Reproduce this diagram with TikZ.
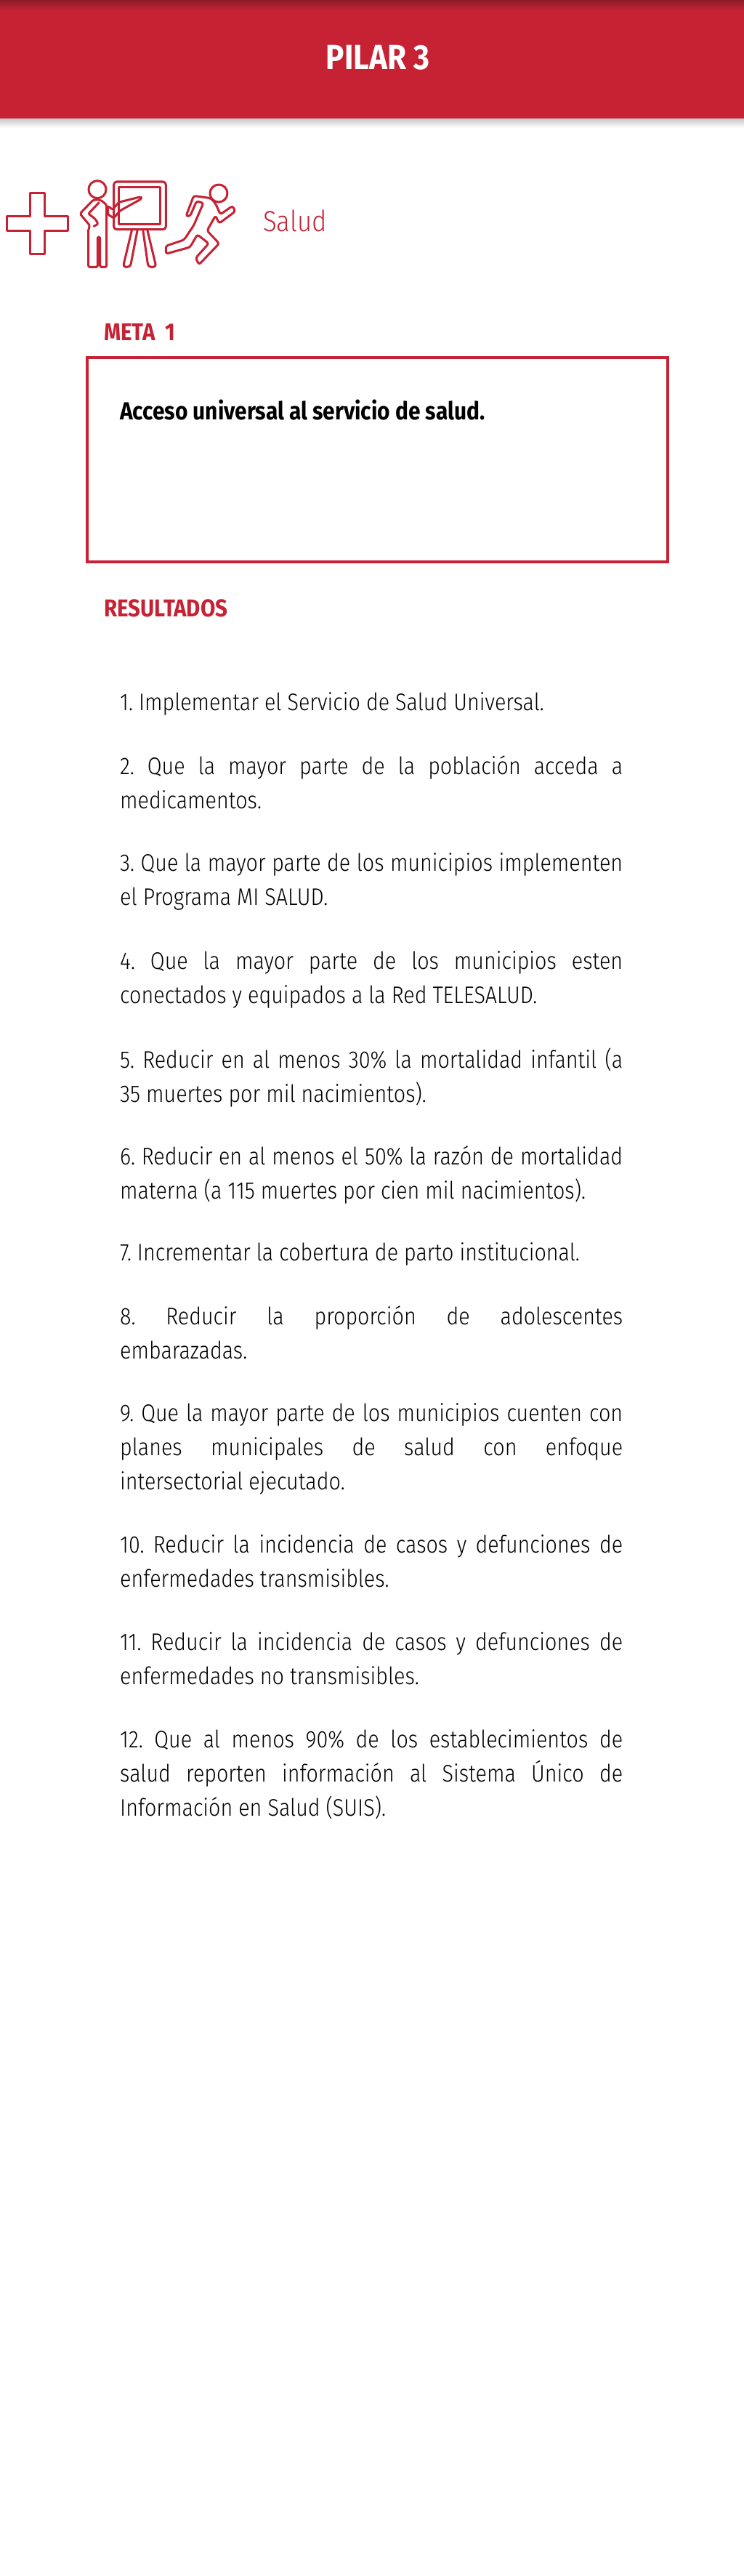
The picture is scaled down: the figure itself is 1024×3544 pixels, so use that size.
\documentclass[tikz,border=0pt]{standalone}
\usepackage{xcolor}
\usepackage{fontspec}
\setmainfont{Fira Sans Light}[FakeStretch=0.87,BoldFont={Fira Sans Bold},BoldFeatures={FakeStretch=0.88}]
\usepackage{tikz}
\usetikzlibrary{positioning}
\definecolor{pilarred}{RGB}{198,34,52}
\definecolor{pilardark}{RGB}{140,28,42}
\hyphenpenalty=10000
\tolerance=10000
\frenchspacing
\tikzset{
  itemtext/.style={anchor=north west,inner sep=0pt,text width=692pt,align=justify,
    font=\fontsize{33}{47}\selectfont},
  headtext/.style={anchor=base west,inner sep=0pt,text=pilarred,font=\fontsize{33.5}{40}\selectfont\bfseries},
  iconline/.style={draw=pilarred,line width=3pt,line join=round,rounded corners=2pt}
}
\begin{document}
\begin{tikzpicture}[x=1pt,y=-1pt]
\useasboundingbox (0,0) rectangle (1024,3544);
\fill[white] (0,0) rectangle (1024,3544);
\fill[pilarred] (0,0) rectangle (1024,163);
\shade[top color=pilardark,bottom color=pilarred] (0,0) rectangle (1024,14);
\shade[top color=black!22,bottom color=white] (0,163) rectangle (1024,176);
\node[anchor=base,inner sep=0pt,text=white,font=\fontsize{48}{50}\selectfont\bfseries] (titulo) at (520,95) {PILAR 3};
\begin{scope}[shift={(0,220)},x=0.3333pt,y=-0.3333pt]
\draw[iconline,rounded corners=0pt] (125,137) -- (185,137) -- (185,233) -- (280,233) -- (280,292) -- (185,292) -- (185,388) -- (125,388) -- (125,292) -- (30,292) -- (30,233) -- (125,233) -- cycle;
\draw[iconline] (402,122) circle (36);
\draw[iconline] (385,165) -- (330,222) -- (372,272) -- (365,285) -- (365,442) -- (403,442) -- (403,318) -- (413,318) -- (413,442) -- (440,442) -- (440,185) -- (415,165) -- cycle;
\draw[iconline] (410,175) -- (365,222) -- (395,245) -- (405,265) -- (385,275);
\draw[iconline] (445,190) -- (465,205) -- (490,175) -- (582,152) -- (585,160) -- (495,210) -- (470,240) -- (445,225) -- cycle;
\draw[iconline,rounded corners=4pt] (470,90) rectangle (685,287);
\draw[iconline,rounded corners=0pt] (490,112) rectangle (663,265);
\draw[iconline,rounded corners=4pt] (545,287) -- (508,442) -- (538,442) -- (568,287);
\draw[iconline,rounded corners=4pt] (590,287) -- (612,442) -- (645,442) -- (608,287);
\draw[iconline] (903,138) circle (36);
\draw[iconline,rounded corners=3pt] (870,158) -- (800,148) -- (768,232) -- (785,232) -- (812,170) -- (840,178) -- (800,270) -- (760,330) -- (685,355) -- (685,388) -- (785,360) -- (815,308) -- (862,345) -- (808,405) -- (822,432) -- (905,345) -- (855,292) -- (890,230) -- (905,262) -- (972,212) -- (960,190) -- (910,225) -- (890,180) -- cycle;
\end{scope}
\node[anchor=base west,inner sep=0pt,text=pilarred,font=\fontsize{40}{44}\selectfont] (salud) at (362,318) {Salud};
\node[headtext] (meta) at (143,468) {META\ \ 1};
\draw[pilarred,line width=3.5pt] (120,492) rectangle (919,773);
\node[anchor=base west,inner sep=0pt,font=\fontsize{34}{40}\selectfont\bfseries] (acceso) at (165,577) {Acceso universal al servicio de salud.};
\node[headtext] (resultados) at (143,848) {RESULTADOS};
\node[itemtext] (item1) at (165,952) {1. Implementar el Servicio de Salud Universal.};
\node[itemtext] (item2) at (165,1039) {2. Que la mayor parte de la población acceda a\linebreak medicamentos.};
\node[itemtext] (item3) at (165,1173) {3. Que la mayor parte de los municipios implementen\linebreak el Programa MI SALUD.};
\node[itemtext] (item4) at (165,1308) {4. Que la mayor parte de los municipios esten\linebreak conectados y equipados a la Red TELESALUD.};
\node[itemtext] (item5) at (165,1442) {5. Reducir en al menos 30\% la mortalidad infantil (a\linebreak 35 muertes por mil nacimientos).};
\node[itemtext] (item6) at (165,1576) {6. Reducir en al menos el 50\% la razón de mortalidad\linebreak materna (a 115 muertes por cien mil nacimientos).};
\node[itemtext] (item7) at (165,1709) {7. Incrementar la cobertura de parto institucional.};
\node[itemtext] (item8) at (165,1796) {8. Reducir la proporción de adolescentes\linebreak embarazadas.};
\node[itemtext] (item9) at (165,1930) {9. Que la mayor parte de los municipios cuenten con\linebreak planes municipales de salud con enfoque\linebreak intersectorial ejecutado.};
\node[itemtext] (item10) at (165,2111) {10. Reducir la incidencia de casos y defunciones de\linebreak enfermedades transmisibles.};
\node[itemtext] (item11) at (165,2245) {11. Reducir la incidencia de casos y defunciones de\linebreak enfermedades no transmisibles.};
\node[itemtext] (item12) at (165,2379) {12. Que al menos 90\% de los establecimientos de\linebreak salud reporten información al Sistema Único de\linebreak Información en Salud (SUIS).};
\end{tikzpicture}
\end{document}
